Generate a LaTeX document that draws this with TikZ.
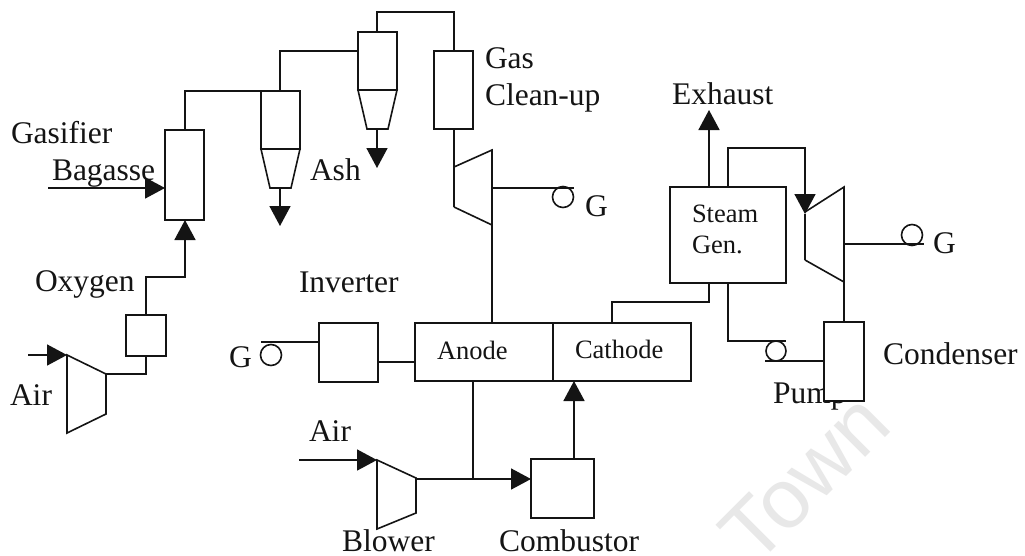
\documentclass[tikz,border=0pt]{standalone}
\usepackage{fontspec}
\setmainfont{Liberation Serif}
\newfontfamily\wmfont{Liberation Sans}
\usetikzlibrary{arrows.meta}
\definecolor{ink}{gray}{0.08}
\tikzset{
  x=1pt,y=-1pt,
  every node/.style={inner sep=0pt,outer sep=0pt},
  line/.style={draw=ink,line width=1.5pt,line join=miter},
  unit/.style={draw=ink,line width=1.6pt,fill=white},
  flow/.style={draw=ink,line width=1.6pt,-{Triangle[length=20pt,width=21pt]}},
  label/.style={anchor=base west,text=ink,font=\fontsize{31.5}{34}\selectfont},
  small/.style={anchor=base west,text=ink,font=\fontsize{26.5}{30}\selectfont},
  genc/.style={draw=ink,line width=1.6pt,circle,minimum size=21pt}
}
\begin{document}
\begin{tikzpicture}
\useasboundingbox[fill=white] (0,0) rectangle (1025,555);
% watermark
\node[anchor=center,rotate=45,text=black!9,font=\wmfont\fontsize{84}{86}\selectfont] (wm) at (805,478) {Town};
% named coordinates
\coordinate (gasT) at (185,130); \coordinate (gasB) at (185,220); \coordinate (gasL) at (165,188);
\coordinate (bagIn) at (48,188);
\coordinate (c1L) at (261,91); \coordinate (c1T) at (280,91); \coordinate (c1B) at (280,188); \coordinate (c1A) at (280,226);
\coordinate (c2L) at (358,51); \coordinate (c2T) at (377,32); \coordinate (c2B) at (377,129); \coordinate (c2A) at (377,168);
\coordinate (gcT) at (454,51); \coordinate (gcB) at (454,129);
\coordinate (oxT) at (146,315); \coordinate (oxB) at (146,356);
% flow connectors
\draw[line] (gasT) |- (c1L);
\draw[line] (c1T) |- (c2L);
\draw[line] (c2T) -- (377,12) -- (454,12) -- (gcT);
\draw[flow] (bagIn) -- (gasL);
\draw[flow] (c1B) -- (c1A);
\draw[flow] (c2B) -- (c2A);
\draw[flow] (oxT) -- (146,277) -- (185,277) -- (gasB);
% gasifier and cyclones
\node[unit,minimum width=39pt,minimum height=90pt] (gasifier) at (184.5,175) {};
\draw[unit] (261,91) rectangle (300,149);
\draw[unit] (261,149) -- (300,149) -- (291,188) -- (270,188) -- cycle;
\draw[unit] (358,32) rectangle (397,90);
\draw[unit] (358,90) -- (397,90) -- (388,129) -- (367,129) -- cycle;
\node[unit,minimum width=39pt,minimum height=78pt] (cleanup) at (453.5,90) {};
% gas turbine
\draw[line] (gcB) -- (454,207);
\draw[unit,fill=none] (454,167) -- (492,150) -- (492,225) -- (454,207);
\draw[line] (492,188) -- (574,188);
\node[genc] (g1) at (563,197) {};
\draw[line] (492,225) -- (492,323);
% fuel cell
\node[unit,minimum width=138pt,minimum height=58pt] (anode) at (484,352) {};
\node[unit,minimum width=138pt,minimum height=58pt] (cathode) at (622,352) {};
\node[unit,minimum width=59pt,minimum height=59pt] (inv) at (348.5,352.5) {};
\draw[line] (inv.east |- 0,362) -- (anode.west |- 0,362);
\draw[line] (inv.west |- 0,342) -- (261,342);
\node[genc] (g3) at (271,355) {};
% oxygen plant and air compressor
\node[unit,minimum width=40pt,minimum height=41pt] (oxy) at (146,335.5) {};
\draw[unit] (67,355) -- (106,374) -- (106,414) -- (67,433) -- cycle;
\draw[flow] (28,355) -- (67,355);
\draw[line] (106,374) -- (146,374) -- (oxB);
% blower, combustor
\draw[unit] (377,460) -- (416,478) -- (416,513) -- (377,529) -- cycle;
\draw[flow] (299,460) -- (377,460);
\node[unit,minimum width=63pt,minimum height=59pt] (comb) at (562.5,488.5) {};
\draw[flow] (416,479) -- (comb.west |- 0,479);
\draw[line] (473,381) -- (473,479);
\draw[flow] (574,459) -- (574,381);
% steam generator
\node[unit,minimum width=116pt,minimum height=96pt] (sg) at (728,235) {};
\draw[flow] (709,187) -- (709,110);
\draw[line] (709,283) -- (709,302) -- (612,302) -- (612,323);
\draw[flow] (728,187) -- (728,148) -- (805,148) -- (805,214);
\draw[line] (805,214) -- (805,260);
\draw[unit,fill=none] (805,212) -- (844,187) -- (844,282) -- (805,260);
\draw[line] (844,244) -- (924,244);
\node[genc] (g2) at (912,235) {};
\draw[line] (844,282) -- (844,322);
\draw[line] (728,283) -- (728,341) -- (786,341);
\draw[line] (765,361) -- (825,361);
\node[genc,minimum size=20pt] (pumpc) at (776,351) {};
% labels
\node[label] (tGas) at (11,143) {Gasifier};
\node[label] (tBag) at (52,180) {Bagasse};
\node[label] (tAsh) at (310,180) {Ash};
\node[label] (tG1) at (485,68) {Gas};
\node[label] (tCl) at (485,105) {Clean-up};
\node[label] (tEx) at (672,104) {Exhaust};
\node[label] (tOx) at (35,291) {Oxygen};
\node[label] (tInv) at (299,292) {Inverter};
\node[label] (tA1) at (10,405) {Air};
\node[label] (tGa) at (229,367) {G};
\node[small] (tAn) at (437,359) {Anode};
\node[small] (tCa) at (575,358) {Cathode};
\node[small] (tSt) at (692,222) {Steam};
\node[small] (tGe) at (692,253) {Gen.};
\node[label] (tGb) at (585,216) {G};
\node[label] (tGc) at (933,253) {G};
\node[label] (tCo) at (883,364) {Condenser};
\node[label] (tPu) at (773,403) {Pump};
\node[label] (tA2) at (309,441) {Air};
\node[label] (tBl) at (342,551) {Blower};
\node[label] (tCb) at (499,551) {Combustor};
% condenser over the pump label
\node[unit,minimum width=40pt,minimum height=79pt] (cond) at (844,361.5) {};
\end{tikzpicture}
\end{document}
